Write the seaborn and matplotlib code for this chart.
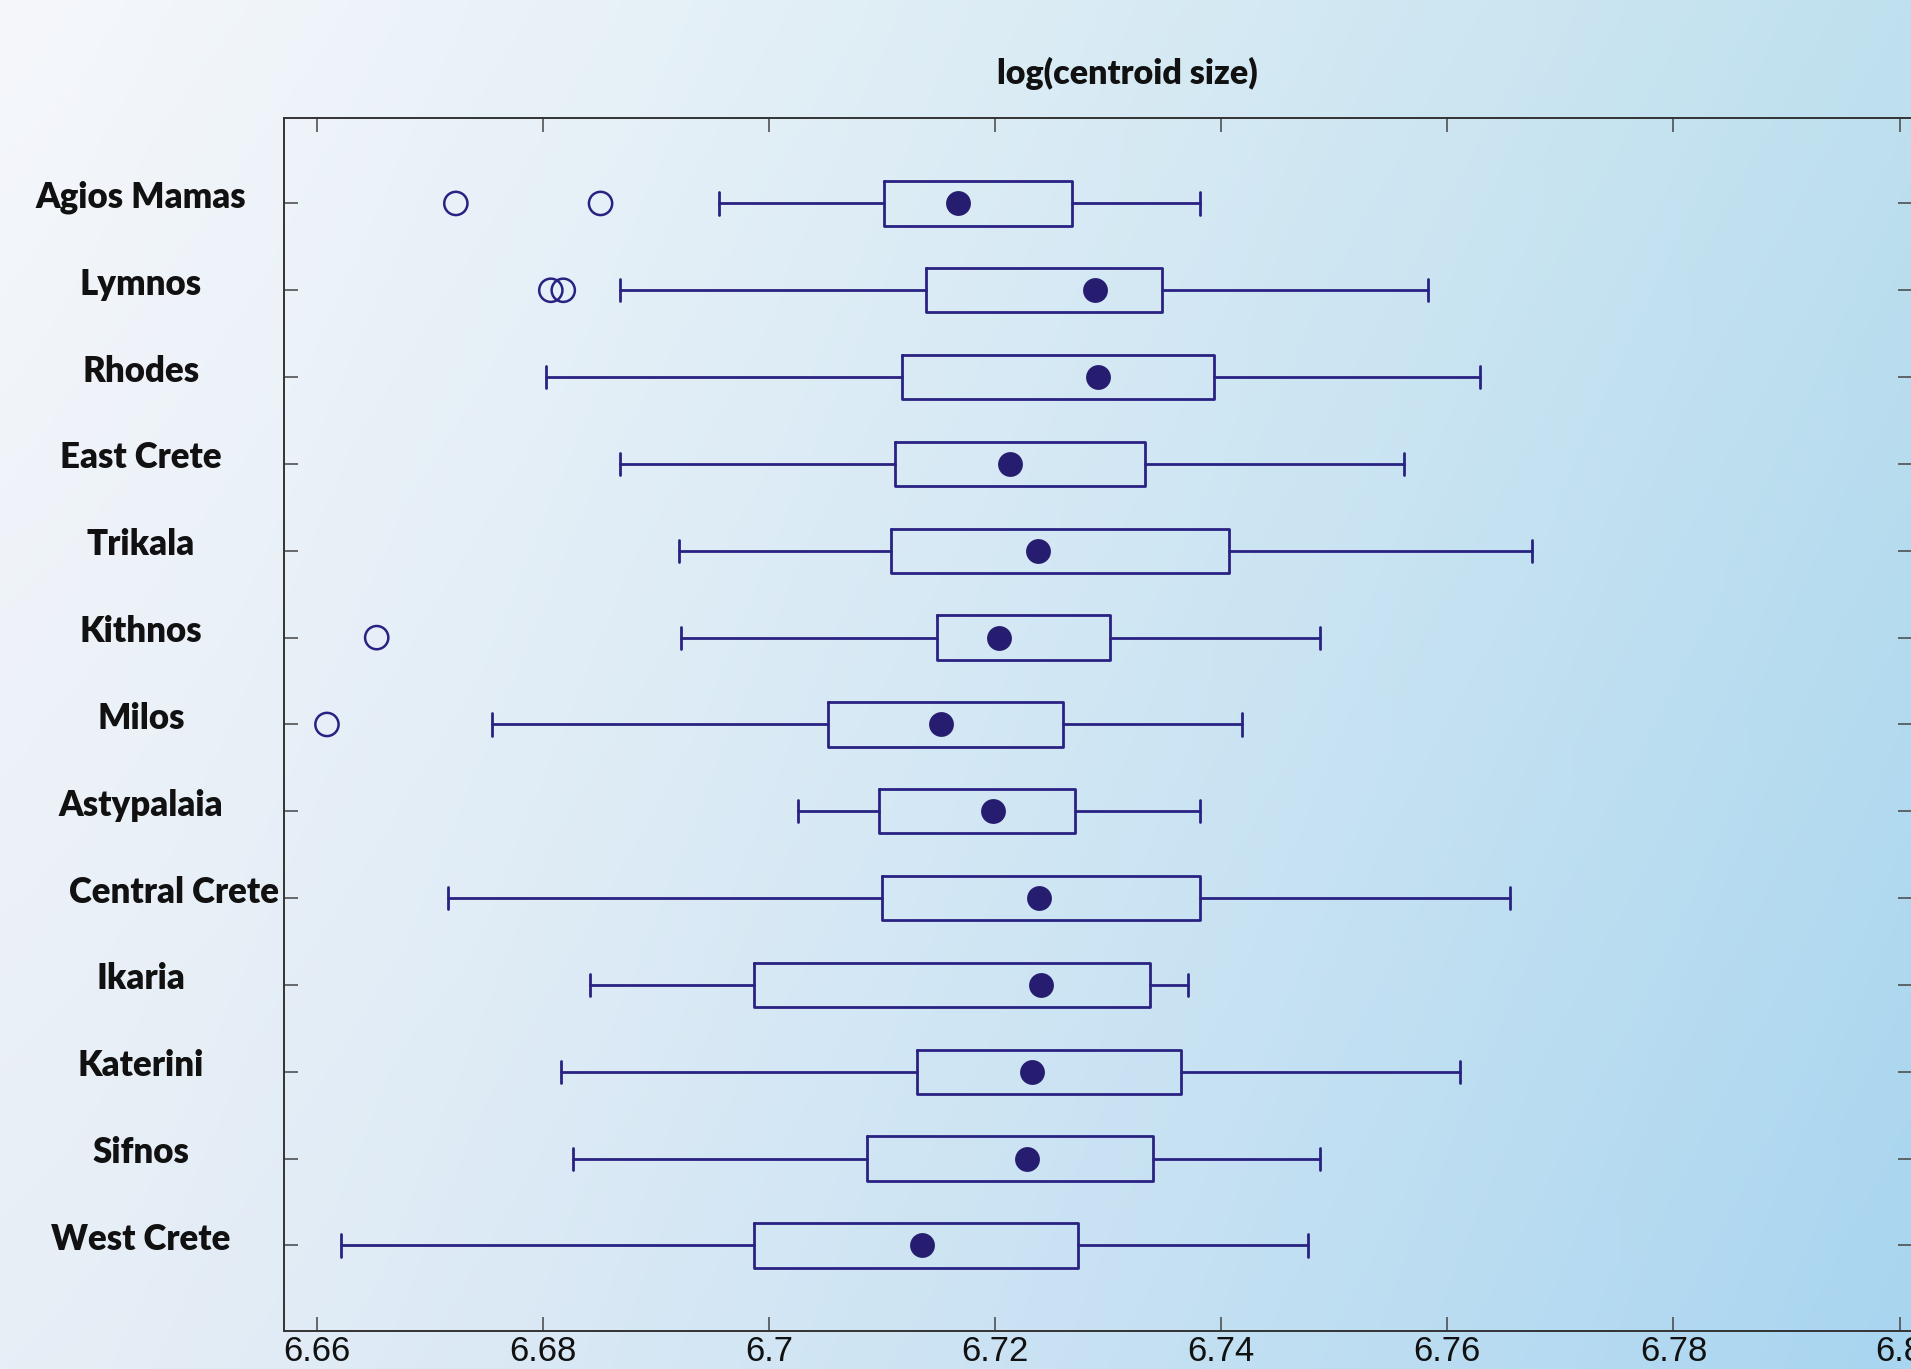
import numpy as np
import matplotlib
matplotlib.use("Agg")
import matplotlib.pyplot as plt
import matplotlib.transforms as mtransforms
import seaborn as sns

# summary stats (log centroid size)
sites = ["Agios Mamas", "Lymnos", "Rhodes", "East Crete", "Trikala", "Kithnos",
         "Milos", "Astypalaia", "Central Crete", "Ikaria", "Katerini", "Sifnos",
         "West Crete"]
whisker_lo = [6.6956, 6.6868, 6.6803, 6.6868, 6.6920, 6.6922,
              6.6755, 6.7026, 6.6716, 6.6842, 6.6816, 6.6827, 6.6621]
q1 = [6.7102, 6.7139, 6.7118, 6.7111, 6.7108, 6.7149,
      6.7052, 6.7097, 6.7100, 6.6987, 6.7131, 6.7087, 6.6987]
medians = [6.7167, 6.7288, 6.7291, 6.7213, 6.7238, 6.7203,
           6.7152, 6.7198, 6.7239, 6.7241, 6.7233, 6.7228, 6.7135]
q3 = [6.7268, 6.7348, 6.7394, 6.7333, 6.7407, 6.7302,
      6.7260, 6.7271, 6.7381, 6.7337, 6.7364, 6.7340, 6.7273]
whisker_hi = [6.7381, 6.7583, 6.7629, 6.7562, 6.7675, 6.7487,
              6.7418, 6.7381, 6.7655, 6.7371, 6.7611, 6.7487, 6.7477]

outlier_site = ["Agios Mamas", "Agios Mamas", "Lymnos", "Lymnos", "Kithnos", "Milos"]
outlier_val = [6.6723, 6.6851, 6.6807, 6.6818, 6.6653, 6.6609]

xticks = [6.66, 6.68, 6.70, 6.72, 6.74, 6.76, 6.78, 6.80]
xticklabels = ["6.66", "6.68", "6.7", "6.72", "6.74", "6.76", "6.78", "6.8"]

navy = "#2a2282"
dot = "#261d70"

sns.set_theme(style="ticks")
plt.rcParams['font.family'] = ['Liberation Sans', 'DejaVu Sans']

W, H = 1911, 1369
fig = plt.figure(figsize=(W / 100, H / 100), dpi=100)

# background: pale white -> light blue wash
bg = fig.add_axes([0, 0, 1, 1], zorder=0)
tl = np.array([245, 247, 251]) / 255
tr = np.array([191, 224, 238]) / 255
bl = np.array([231, 238, 246]) / 255
br = np.array([168, 213, 240]) / 255
gx = np.linspace(0, 1, 400) ** 1.2
gy = np.linspace(0, 1, 300)
X, Y = np.meshgrid(gx, gy)
img = ((1 - X)[..., None] * (1 - Y)[..., None] * tl + X[..., None] * (1 - Y)[..., None] * tr
       + (1 - X)[..., None] * Y[..., None] * bl + X[..., None] * Y[..., None] * br)
bg.imshow(img, aspect="auto", extent=[0, 1, 0, 1], origin="upper")
bg.set_axis_off()

ax = fig.add_axes([284 / W, 38 / H, (1912 - 284) / W, (1331 - 118) / H], zorder=1)
ax.patch.set_alpha(0)

pos = np.arange(len(sites))
stats = [dict(whislo=lo, q1=a, med=m, q3=b, whishi=hi, fliers=[])
         for lo, a, m, b, hi in zip(whisker_lo, q1, medians, q3, whisker_hi)]
line_kw = dict(color=navy, linewidth=2.0)
ax.bxp(stats, positions=pos, widths=0.51, orientation="horizontal",
       showfliers=False, manage_ticks=False,
       boxprops=line_kw, whiskerprops=line_kw, capprops=line_kw,
       medianprops=dict(visible=False))

# medians as filled dots
sns.scatterplot(x=medians, y=pos, ax=ax, s=320, color=dot, edgecolor=dot,
                linewidth=0, zorder=4)

# outliers as open circles
out_pos = [sites.index(s) for s in outlier_site]
sns.scatterplot(x=outlier_val, y=out_pos, ax=ax, s=280, color=navy,
                facecolor="none", edgecolor=navy, linewidth=1.8, zorder=4)

ax.set_xlim(6.6571, 6.8011)
ax.set_ylim(len(sites) - 1 + 0.985, -0.984)
ax.set_xticks(xticks)
ax.set_xticklabels(xticklabels)
ax.set_yticks(pos)
ax.set_yticklabels([])
ax.tick_params(direction="in", length=10, width=1.1, color="#444444",
               top=True, right=True, labelsize=25, labelcolor="#111111", pad=3)
for sp in ax.spines.values():
    sp.set_color("#333333")
    sp.set_linewidth(1.4)
    sp.set_visible(True)
ax.set_xlabel("")
ax.set_ylabel("")

# site names centred in the left margin
trans = mtransforms.blended_transform_factory(fig.transFigure, ax.transData)
label_kw = dict(transform=trans, va="center", fontsize=25, fontweight="heavy",
                color="#111111", family=["Lato", "DejaVu Sans"])
for i, name in enumerate(sites):
    if name == "Central Crete":
        ax.text(279 / W, i - 0.07, name, ha="right", **label_kw)
    else:
        ax.text(141 / W, i - 0.07, name, ha="center", **label_kw)

fig.text(1127 / W, 1 - 73 / H, "log(centroid size)", ha="center", va="center",
         fontsize=24.5, fontweight="heavy", color="#111111", family=["Lato", "DejaVu Sans"])

fig.savefig("out.png", dpi=100)
